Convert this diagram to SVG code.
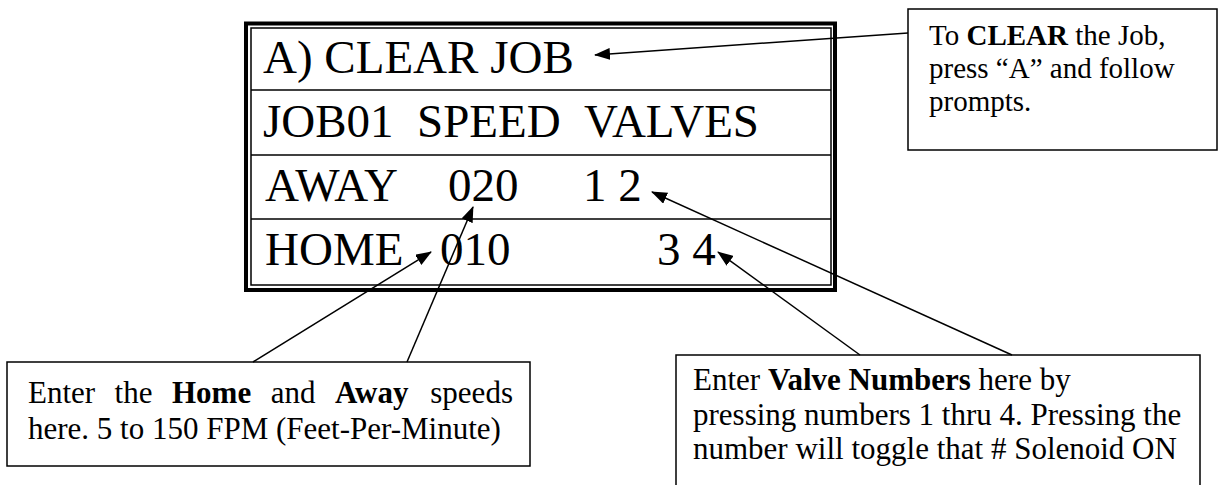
<svg xmlns="http://www.w3.org/2000/svg" width="1223" height="485" viewBox="0 0 1223 485">
<style>
.lcd{font-family:"Liberation Serif","Times New Roman",serif;font-size:47px;fill:#000}
.note{font-family:"Liberation Serif","Times New Roman",serif;font-size:31px;fill:#000}
.small{font-size:29px}
.b{font-weight:bold}
.box{fill:#fff;stroke:#000;stroke-width:1.5}
.conn{fill:none;stroke:#000;stroke-width:1.5}
</style>
<defs>
<marker id="ah" markerUnits="userSpaceOnUse" markerWidth="16" markerHeight="12" viewBox="0 0 16 12" refX="15" refY="6" orient="auto">
<path d="M0,0 L16,6 L0,12 Z" fill="#000"/>
</marker>
</defs>
<rect width="1223" height="485" fill="#fff"/>
<g id="display">
<rect x="246" y="23.5" width="589" height="266.5" fill="#fff" stroke="#000" stroke-width="4"/>
<rect x="251" y="28" width="580" height="257" fill="none" stroke="#000" stroke-width="1.5"/>
<line x1="251" y1="90" x2="831" y2="90" stroke="#000" stroke-width="1.5"/>
<line x1="251" y1="155" x2="831" y2="155" stroke="#000" stroke-width="1.5"/>
<line x1="251" y1="219" x2="831" y2="219" stroke="#000" stroke-width="1.5"/>
<text class="lcd" x="263" y="73">A) CLEAR JOB</text>
<text class="lcd" y="137"><tspan x="263">JOB01</tspan><tspan x="417">SPEED</tspan><tspan x="584">VALVES</tspan></text>
<text class="lcd" y="201"><tspan x="265">AWAY</tspan><tspan x="448">020</tspan><tspan x="583">1 2</tspan></text>
<text class="lcd" y="265"><tspan x="265">HOME</tspan><tspan x="440">010</tspan><tspan x="657">3 4</tspan></text>
</g>
<g id="note-clear">
<rect class="box" x="908" y="9" width="309" height="141"/>
<text class="note small" x="929" y="45">To <tspan class="b">CLEAR</tspan> the Job,</text>
<text class="note small" x="929" y="78">press “A” and follow</text>
<text class="note small" x="929" y="111">prompts.</text>
</g>
<g id="note-speed">
<rect class="box" x="7" y="362" width="523" height="104"/>
<text class="note" y="403"><tspan x="28">Enter</tspan><tspan x="114.6">the</tspan><tspan x="172" class="b">Home</tspan><tspan x="270.7">and</tspan><tspan x="335" class="b">Away</tspan><tspan x="430.3">speeds</tspan></text>
<text class="note" x="28" y="439">here. 5 to 150 FPM (Feet-Per-Minute)</text>
</g>
<g id="note-valves">
<rect class="box" x="676" y="355" width="524" height="150"/>
<text class="note" x="693" y="390">Enter <tspan class="b">Valve Numbers</tspan> here by</text>
<text class="note" x="693" y="424.5">pressing numbers 1 thru 4. Pressing the</text>
<text class="note" x="693" y="459">number will toggle that # Solenoid ON</text>
</g>
<g id="connectors">
<line class="conn" x1="908" y1="33" x2="595" y2="55" marker-end="url(#ah)"/>
<line class="conn" x1="253" y1="362" x2="431" y2="252" marker-end="url(#ah)"/>
<line class="conn" x1="407" y1="362" x2="473" y2="207" marker-end="url(#ah)"/>
<line class="conn" x1="1012" y1="355" x2="652" y2="192" marker-end="url(#ah)"/>
<line class="conn" x1="860" y1="355" x2="718" y2="252" marker-end="url(#ah)"/>
</g>
</svg>
